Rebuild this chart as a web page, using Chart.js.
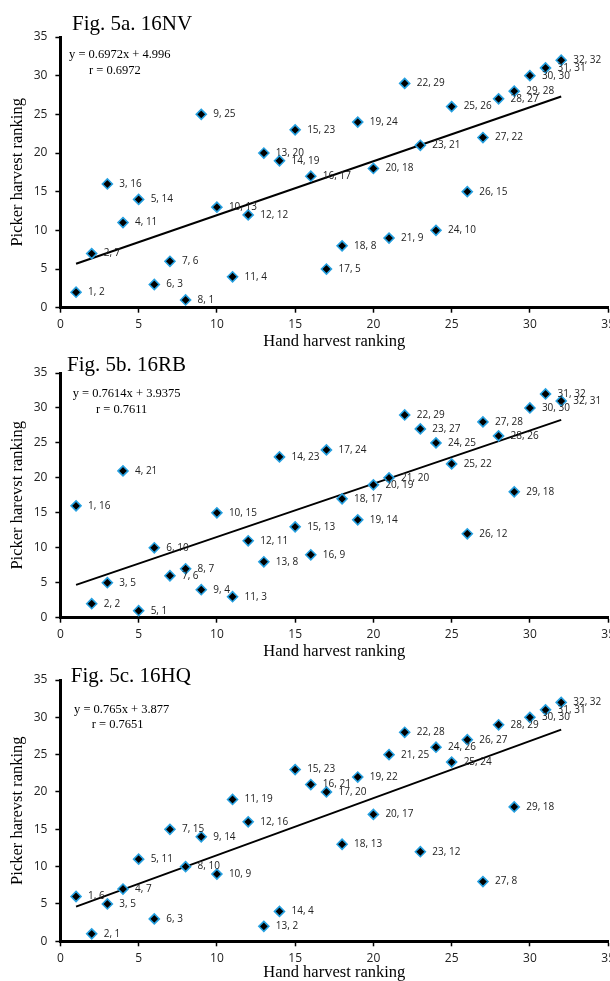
<!DOCTYPE html>
<html>
<head>
<meta charset="utf-8">
<script src="https://cdn.jsdelivr.net/npm/chart.js@4.4.1/dist/chart.umd.min.js"></script>
<style>
  html, body { margin: 0; padding: 0; background: #fff; overflow: hidden; }
  body { width: 610px; height: 981px; position: relative; }
  .fig { position: absolute; left: 0; width: 620px; }
</style>
</head>
<body>
<div class="fig" id="box1" style="top:0; height:352px;"><canvas id="fig5a"></canvas></div>
<div class="fig" id="box2" style="top:352px; height:310px;"><canvas id="fig5b"></canvas></div>
<div class="fig" id="box3" style="top:662px; height:321px;"><canvas id="fig5c"></canvas></div>
<script>
// Hand harvest ranking (x) is the same for all three figures
const handRank = [1, 2, 3, 4, 5, 6, 7, 8, 9, 10, 11, 12, 13, 14, 15, 16,
                  17, 18, 19, 20, 21, 22, 23, 24, 25, 26, 27, 28, 29, 30, 31, 32];

// Picker harvest ranking (y)
const nvPicker = [2, 7, 16, 11, 14, 3, 6, 1, 25, 13, 4, 12, 20, 19, 23, 17,
                  5, 8, 24, 18, 9, 29, 21, 10, 26, 15, 22, 27, 28, 30, 31, 32];
const rbPicker = [16, 2, 5, 21, 1, 10, 6, 7, 4, 15, 3, 11, 8, 23, 13, 9,
                  24, 17, 14, 19, 20, 29, 27, 25, 22, 12, 28, 26, 18, 30, 32, 31];
const hqPicker = [6, 1, 5, 7, 11, 3, 15, 10, 14, 9, 19, 16, 2, 4, 23, 21,
                  20, 13, 22, 17, 25, 28, 12, 26, 24, 27, 8, 29, 18, 30, 31, 32];

// Linear trend line end points (x = 1 and x = 32)
const trendX = [1, 32];
const nvTrend = [5.69, 27.31];
const rbTrend = [4.70, 28.30];
const hqTrend = [4.64, 28.36];

// Axis ticks
const axisMin = 0;
const axisMax = 35;
const axisStep = 5;

const SERIF = '"Liberation Serif", "Times New Roman", serif';
const SANS = '"Open Sans", "Liberation Sans", sans-serif';

// Draws "x, y" to the right of each marker
const pointLabels = {
    id: 'pointLabels',
    afterDatasetsDraw(chart) {
        const ctx = chart.ctx;
        const meta = chart.getDatasetMeta(0);
        const data = chart.data.datasets[0].data;
        ctx.save();
        ctx.font = '10px ' + SANS;
        ctx.fillStyle = '#222';
        ctx.textBaseline = 'middle';
        ctx.textAlign = 'left';
        meta.data.forEach((pt, i) => {
            ctx.fillText(data[i].x + ', ' + data[i].y, pt.x + 12, pt.y);
        });
        ctx.restore();
    }
};

// Figure caption and regression equation
const figureText = {
    id: 'figureText',
    afterDraw(chart, args, opts) {
        const ctx = chart.ctx;
        ctx.save();
        ctx.fillStyle = '#000';
        ctx.textAlign = 'left';
        ctx.textBaseline = 'alphabetic';
        ctx.font = '21px ' + SERIF;
        ctx.fillText(opts.title, opts.titlePos[0], opts.titlePos[1]);
        ctx.font = '12.5px ' + SERIF;
        ctx.fillText(opts.equation, opts.eqPos[0], opts.eqPos[1]);
        ctx.fillText(opts.r, opts.rPos[0], opts.rPos[1]);
        ctx.restore();
    }
};

function toPoints(xs, ys) {
    return xs.map((x, i) => ({ x: x, y: ys[i] }));
}

function axis(title, isX, fixedSize) {
    return {
        type: 'linear',
        min: axisMin,
        max: axisMax,
        ticks: {
            stepSize: axisStep,
            color: '#222',
            font: { family: SANS, size: 12 },
            padding: isX ? 5 : 8
        },
        grid: {
            display: true,
            drawOnChartArea: false,
            drawTicks: true,
            tickLength: 5,
            tickColor: '#000',
            tickWidth: 1.5
        },
        border: { display: true, color: '#000', width: 3 },
        title: {
            display: true,
            text: title,
            color: '#000',
            font: { family: SERIF, size: 16.5 },
            padding: isX ? { top: 0, bottom: 0 } : { top: 8, bottom: 0 }
        },
        afterFit(scale) {
            if (isX) scale.height = fixedSize;
            else scale.width = fixedSize;
        }
    };
}

function makeFigure(canvasId, picker, trend, yTitle, layout, text) {
    return new Chart(document.getElementById(canvasId), {
        type: 'scatter',
        data: {
            datasets: [{
                label: 'ranking',
                data: toPoints(handRank, picker),
                pointStyle: 'rectRot',
                pointRadius: 5,
                pointHoverRadius: 5,
                backgroundColor: '#000',
                borderColor: '#26a0e0',
                borderWidth: 1.6
            }, {
                label: 'trend',
                data: toPoints(trendX, trend),
                showLine: true,
                borderColor: '#000',
                borderWidth: 2,
                pointRadius: 0,
                fill: false
            }]
        },
        options: {
            responsive: true,
            maintainAspectRatio: false,
            animation: false,
            layout: { padding: { top: layout.top, left: 0, right: 10.7, bottom: 0 } },
            plugins: {
                legend: { display: false },
                tooltip: { enabled: false },
                figureText: text
            },
            scales: {
                x: axis('Hand harvest ranking', true, layout.xHeight),
                y: axis(yTitle, false, 60.4)
            }
        },
        plugins: [pointLabels, figureText]
    });
}

makeFigure('fig5a', nvPicker, nvTrend, 'Picker harvest ranking',
    { top: 37, xHeight: 44.3 },
    { title: 'Fig. 5a. 16NV', titlePos: [72, 29.7],
      equation: 'y = 0.6972x + 4.996', eqPos: [69, 58],
      r: 'r = 0.6972', rPos: [89, 74] });

makeFigure('fig5b', rbPicker, rbTrend, 'Picker harevst ranking',
    { top: 21, xHeight: 44.3 },
    { title: 'Fig. 5b. 16RB', titlePos: [67, 19.4],
      equation: 'y = 0.7614x + 3.9375', eqPos: [72.7, 45],
      r: 'r = 0.7611', rPos: [96, 61] });

makeFigure('fig5c', hqPicker, hqTrend, 'Picker harevst ranking',
    { top: 18, xHeight: 41.7 },
    { title: 'Fig. 5c. 16HQ', titlePos: [70.7, 20.2],
      equation: 'y = 0.765x + 3.877', eqPos: [74, 51],
      r: 'r = 0.7651', rPos: [91.7, 66] });
</script>
</body>
</html>
